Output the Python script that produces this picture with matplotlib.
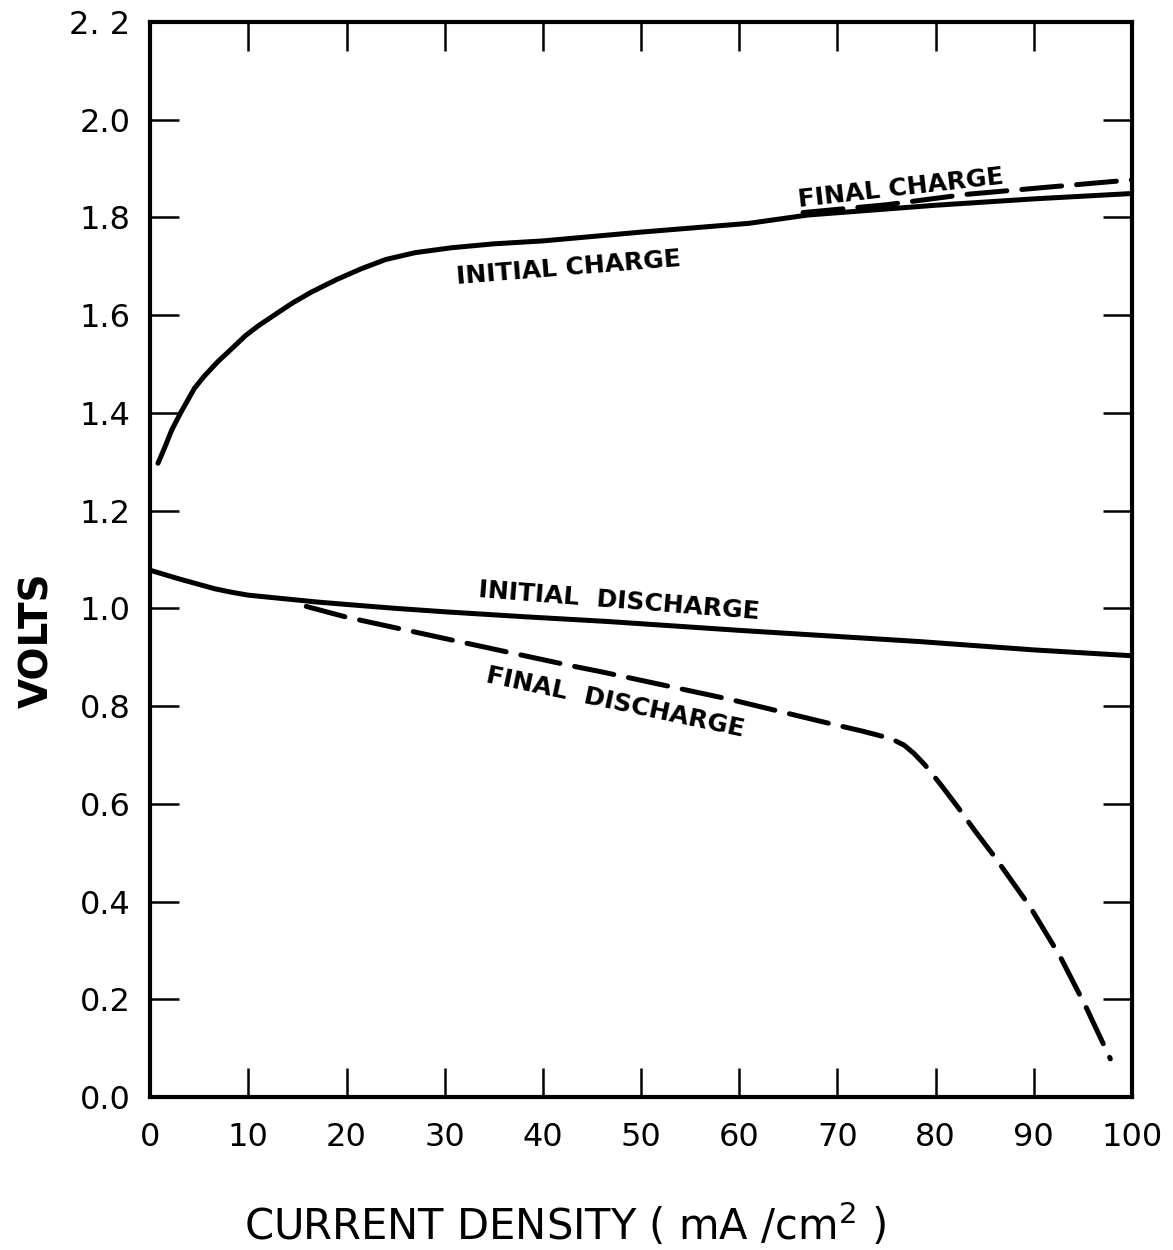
#!/usr/bin/env python3
# -*- coding: utf-8 -*-

import matplotlib
matplotlib.use('Agg')
import matplotlib.pyplot as plt

# current density (mA/cm2) vs cell voltage
init_charge_x = [0.8, 1.5, 2.2, 3.1, 4.5, 5.5, 6.9, 8.5, 9.7, 11.0, 13.0, 14.5, 16.4, 19.0, 21.5,
                 24.0, 27.0, 30.7, 35.0, 40.0, 50.0, 61.0, 67.0, 80.0, 90.0, 100.0]
init_charge_v = [1.297, 1.33, 1.365, 1.40, 1.45, 1.475, 1.505, 1.535, 1.558, 1.578, 1.605, 1.625,
                 1.647, 1.673, 1.695, 1.714, 1.728, 1.738, 1.746, 1.752, 1.77, 1.788, 1.805,
                 1.825, 1.838, 1.849]

final_charge_x = [66.5, 75.0, 83.0, 92.0, 100.0]
final_charge_v = [1.81, 1.826, 1.847, 1.863, 1.877]

init_dis_x = [0.0, 1.5, 3.0, 4.8, 6.6, 8.3, 10.0, 12.0, 14.0, 17.0, 20.0, 25.0, 30.0, 38.0,
              46.7, 60.0, 78.4, 90.0, 100.0]
init_dis_v = [1.078, 1.069, 1.06, 1.05, 1.04, 1.033, 1.027, 1.023, 1.019, 1.013, 1.008, 1.0,
              0.993, 0.983, 0.973, 0.955, 0.932, 0.915, 0.903]

final_dis_x = [15.9, 20.0, 31.0, 43.0, 46.0, 59.0, 69.5, 72.5, 74.6, 75.8, 76.8, 77.8, 78.9,
               80.5, 82.2, 84.0, 86.0, 89.6, 92.7, 95.3, 97.8]
final_dis_v = [1.004, 0.982, 0.934, 0.882, 0.87, 0.814, 0.763, 0.749, 0.738, 0.73, 0.72, 0.703,
               0.68, 0.64, 0.595, 0.545, 0.492, 0.39, 0.287, 0.185, 0.078]

xticks = list(range(0, 101, 10))
yticks = [i * 0.2 for i in range(12)]
ytick_labels = ['0.0', '0.2', '0.4', '0.6', '0.8', '1.0', '1.2', '1.4', '1.6', '1.8', '2.0', '2. 2']

plt.rcParams['font.family'] = ['DejaVu Sans']

def main():
  fig = plt.figure(figsize=(11.73, 12.5), dpi=100)
  ax = fig.add_axes([0.128, 0.1224, 0.837, 0.86])

  lw = 3.6
  dash = (8, 3)
  ax.plot(init_charge_x, init_charge_v, color='black', lw=lw, solid_capstyle='round', solid_joinstyle='round')
  ax.plot(final_charge_x, final_charge_v, color='black', lw=lw, ls=(0, dash), dash_capstyle='round')
  ax.plot(init_dis_x, init_dis_v, color='black', lw=lw, solid_capstyle='round', solid_joinstyle='round')
  ax.plot(final_dis_x, final_dis_v, color='black', lw=lw, ls=(0, dash), dash_capstyle='round',
          dash_joinstyle='round')

  lab = dict(fontsize=18, fontweight='bold', ha='center', va='center', color='black')
  ax.text(42.6, 1.697, 'INITIAL CHARGE', rotation=4.6, **lab)
  ax.text(76.5, 1.859, 'FINAL CHARGE', rotation=6.5, **lab)
  ax.text(47.8, 1.014, 'INITIAL  DISCHARGE', rotation=-4.5, **lab)
  ax.text(47.4, 0.808, 'FINAL  DISCHARGE', rotation=-12, **lab)

  ax.set_xlim(0, 100)
  ax.set_ylim(0, 2.2)
  ax.set_xticks(xticks)
  ax.set_yticks(yticks)
  ax.set_yticklabels(ytick_labels)
  ax.tick_params(direction='in', length=21, width=1.8, top=True, right=True,
                 labelsize=23, colors='black')
  ax.tick_params(axis='y', pad=14)
  ax.tick_params(axis='x', pad=18)
  for s in ax.spines.values():
    s.set_linewidth(3)

  ax.set_xlabel('CURRENT DENSITY ( mA /cm$^2$ )', fontsize=30)
  ax.xaxis.set_label_coords(0.4226, -0.119)
  ax.xaxis.label.set_va('center')
  ax.set_ylabel('VOLTS', fontsize=28, fontweight='bold')
  ax.yaxis.set_label_coords(-0.115, 0.425)
  ax.yaxis.label.set_va('center')

  fig.savefig('out.png', dpi=100, facecolor='white')
  return 0

if __name__ == '__main__':
  main()
